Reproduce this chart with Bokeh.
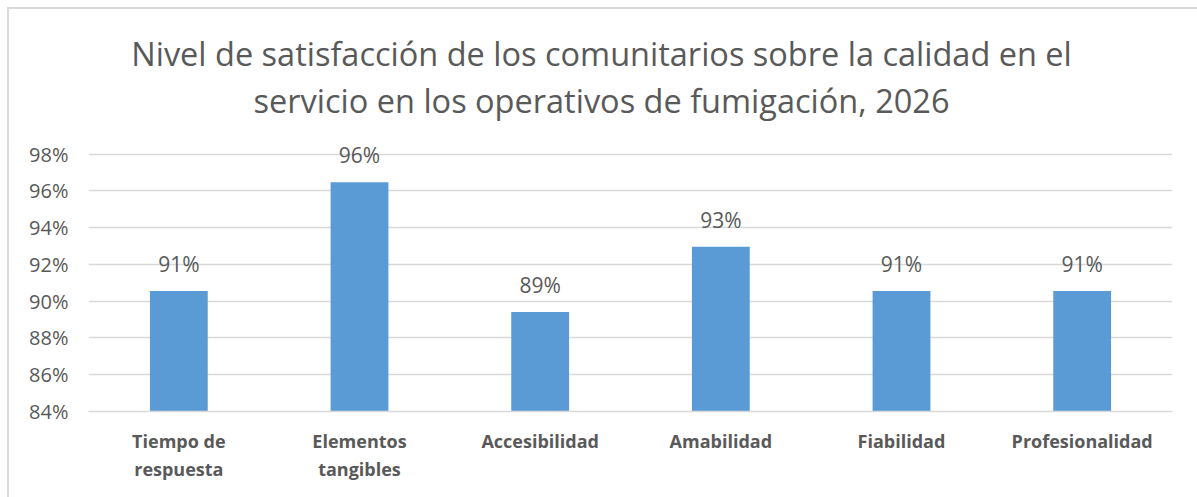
from bokeh.plotting import figure
from bokeh.models import FactorRange, Range1d, FixedTicker, PrintfTickFormatter, Label, ColumnDataSource
from bokeh.core.properties import value
from bokeh.embed import file_html
from bokeh.resources import INLINE

categories = ["Tiempo de\nrespuesta", "Elementos\ntangibles", "Accesibilidad",
              "Amabilidad", "Fiabilidad", "Profesionalidad"]
values = [90.56, 96.47, 89.41, 92.97, 90.56, 90.56]
y_ticks = [84, 86, 88, 90, 92, 94, 96, 98]
title_lines = ["Nivel de satisfacción de los comunitarios sobre la calidad en el",
               "servicio en los operativos de fumigación, 2026"]

TEXT = "#595959"
GRID = "#D9D9D9"
BAR = "#5B9BD5"
FONT = "Open Sans"

labels = ["%d%%" % round(v) for v in values]
src = ColumnDataSource(dict(cat=categories, val=values, lab=labels))

W, H = 1188, 488
MBL, MBR, MBT, MBB = 79, 27, 10, 88
frame_h = H - MBT - MBB          # 390 px
px_per_unit = 256.0 / (y_ticks[-1] - y_ticks[0])
y_top = y_ticks[0] + frame_h / px_per_unit

p = figure(width=W, height=H, x_range=FactorRange(*categories, range_padding=0),
           y_range=Range1d(y_ticks[0], y_top), output_backend="svg", toolbar_location=None,
           min_border_left=MBL, min_border_right=MBR, min_border_top=MBT, min_border_bottom=MBB)
p.margin = (7, 0, 0, 7)
p.styles = {"border-left": "2px solid #D9D9D9", "border-top": "2px solid #D9D9D9",
            "box-sizing": "content-box"}
p.outline_line_color = None
p.background_fill_color = "white"
p.border_fill_color = "white"

p.vbar(x="cat", top="val", bottom=y_ticks[0], width=0.32, source=src, fill_color=BAR, line_color=None)
p.text(x="cat", y="val", text="lab", source=src, y_offset=-13, text_align="center",
       text_baseline="bottom", text_color=TEXT, text_font=value(FONT), text_font_size="21px")

p.xgrid.grid_line_color = None
p.ygrid.grid_line_color = GRID
p.ygrid.grid_line_width = 1.5
p.yaxis.ticker = FixedTicker(ticks=y_ticks)
p.yaxis.formatter = PrintfTickFormatter(format="%d%%")
p.yaxis.axis_line_color = None
p.yaxis.major_tick_line_color = None
p.yaxis.minor_tick_line_color = None
p.yaxis.major_label_text_color = TEXT
p.yaxis.major_label_text_font = FONT
p.yaxis.major_label_text_font_size = "20px"
p.yaxis.major_label_standoff = 14

p.xaxis.axis_line_color = GRID
p.xaxis.axis_line_width = 1.5
p.xaxis.major_tick_line_color = None
p.xaxis.minor_tick_line_color = None
p.xaxis.major_label_text_color = TEXT
p.xaxis.major_label_text_font = FONT
p.xaxis.major_label_text_font_style = "bold"
p.xaxis.major_label_text_font_size = "18px"
p.xaxis.major_label_standoff = 11

cx = (W / 2.0) - MBL - 2
for i, t in enumerate(title_lines):
    baseline_from_top = 42 + i * 47
    p.add_layout(Label(x=cx, y=frame_h + MBT - baseline_from_top, x_units="screen", y_units="screen",
                       text=t, text_align="center", text_baseline="alphabetic", text_color=TEXT,
                       text_font=FONT, text_font_size="32.5px"))

open("out.html", "w").write(file_html(p, INLINE))
